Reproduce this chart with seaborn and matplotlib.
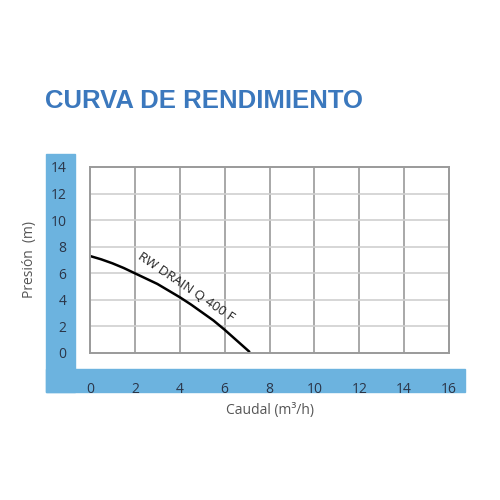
import numpy as np
import pandas as pd
import seaborn as sns
import matplotlib.pyplot as plt
from matplotlib.patches import Rectangle

# curva
caudal = [0, 0.5, 1, 1.5, 2, 2.5, 3, 3.5, 4, 4.5, 5, 5.5, 6, 6.5, 7.1]
presion = [7.3, 7.05, 6.75, 6.4, 6.0, 5.6, 5.2, 4.7, 4.2, 3.65, 3.05, 2.45, 1.75, 1.0, 0.1]
modelo = 'RW DRAIN Q 400 F'
x_ticks = [0, 2, 4, 6, 8, 10, 12, 14, 16]
y_ticks = [0, 2, 4, 6, 8, 10, 12, 14]

df = pd.DataFrame({'Caudal': caudal, 'Presion': presion})

sns.set_style('white')
plt.rcParams['font.family'] = ['Open Sans', 'DejaVu Sans']

fig = plt.figure(figsize=(5, 5), dpi=100)
blue = '#6cb3df'
# marco azul en forma de L
fig.patches.append(Rectangle((46/500, 1-392/500), 29/500, 238/500,
                             transform=fig.transFigure, color=blue, zorder=-1))
fig.patches.append(Rectangle((46/500, 1-392/500), 419/500, 23/500,
                             transform=fig.transFigure, color=blue, zorder=-1))

ax = fig.add_axes([90/500, 1-353/500, 359/500, 186/500])
ax.set_zorder(2)
ax.set_facecolor('white')
sns.lineplot(data=df, x='Caudal', y='Presion', ax=ax, color='black', lw=1.8)

ax.set_xlim(0, 16)
ax.set_ylim(0, 14)
ax.set_xticks(x_ticks)
ax.set_yticks(y_ticks)
for x in x_ticks[1:-1]:
    ax.axvline(x, color='#9a9a9a', lw=1.2, zorder=0)
for y in y_ticks[1:-1]:
    ax.axhline(y, color='#d0d0d0', lw=1.2, zorder=0)
for s in ax.spines.values():
    s.set_color('#9a9a9a')
    s.set_linewidth(1.4)

ax.tick_params(axis='both', length=0, labelsize=10, colors='#2b3548')
ax.tick_params(axis='y', pad=17)
ax.tick_params(axis='x', pad=21)
ax.set_xlabel('Caudal (m³/h)', fontsize=10, color='#555555', labelpad=4)
ax.set_ylabel('Presión  (m)', fontsize=10, color='#555555', labelpad=10)

ax.text(4.3, 4.95, modelo, rotation=-34, ha='center', va='center',
        fontsize=9.5, color='#222222', rotation_mode='anchor')

fig.text(45/500, 1-101/500, 'CURVA DE RENDIMIENTO', fontsize=18.5,
         fontweight='bold', color='#3b78bd', family='Liberation Sans',
         va='center', ha='left')

fig.savefig('out.png', dpi=100, facecolor='white')
